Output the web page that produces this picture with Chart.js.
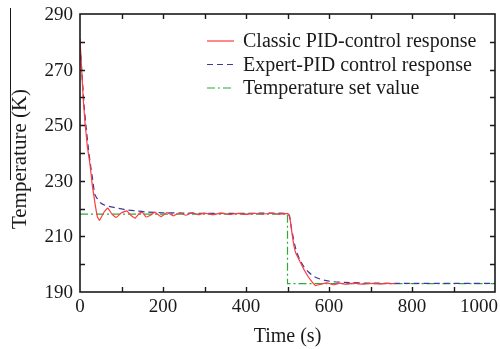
<!DOCTYPE html>
<html>
<head>
<meta charset="utf-8">
<script src="https://cdn.jsdelivr.net/npm/chart.js@4.4.1/dist/chart.umd.min.js"></script>
<style>
  html, body { margin: 0; padding: 0; background: #fff; }
  #wrap { position: relative; width: 500px; height: 349px; }
</style>
</head>
<body>
<div id="wrap"><canvas id="c"></canvas></div>
<script>
// classic PID response (time s, temperature K)
const classicT = [0, 4, 8, 12, 18, 24, 30, 36, 42, 47, 57, 67, 77, 87, 100, 113, 123, 133, 143, 150, 159, 170, 180, 195, 210, 225, 240, 255, 270, 285, 300, 320, 340, 360, 380, 400, 420, 440, 460, 480, 500, 505, 510, 515, 520, 530, 540, 550, 560, 568, 580, 595, 610, 625, 640, 660, 680, 700, 720, 740, 760];
const classicY = [281, 270, 259, 251, 242, 236, 228, 222, 217, 215.8, 218.5, 220.2, 218, 216.8, 218.5, 219.2, 217.5, 216.6, 218.3, 218.7, 217, 217.6, 218.7, 217.1, 218.6, 217.4, 218.5, 217.6, 218.5, 217.8, 218.4, 217.8, 218.4, 217.9, 218.3, 217.9, 218.3, 218, 218.3, 218, 218.2, 217.5, 212, 207, 204, 201, 198, 195.5, 193.5, 192.3, 192.8, 193.3, 192.6, 193.2, 192.8, 193.2, 192.8, 193.1, 192.9, 193.1, 193];
// expert PID response
const expertT = [0, 5, 10, 15, 20, 25, 30, 36, 42, 50, 60, 75, 92, 110, 133, 160, 200, 250, 300, 400, 500, 505, 510, 520, 530, 540, 550, 560, 570, 580, 590, 610, 650, 700, 800, 1000];
const expertY = [279, 268, 257, 249, 242, 236, 231, 225, 223.5, 222, 221.2, 220.6, 220.1, 219.6, 219.2, 218.8, 218.5, 218.4, 218.3, 218.3, 218.2, 217, 212.5, 205.5, 201.5, 199, 197.3, 196, 195.1, 194.6, 194.2, 193.7, 193.4, 193.2, 193.1, 193.1];
// temperature set value
const setT = [0, 500, 500, 1000];
const setY = [218, 218, 193, 193];

const seriesNames = ["Classic PID-control response", "Expert-PID control response", "Temperature set value"];
const xTicks = [0, 200, 400, 600, 800, 1000];
const yTicks = [190, 210, 230, 250, 270, 290];

const pts = (t, y) => t.map((v, i) => ({ x: v, y: y[i] }));
const FONT = "'Liberation Serif', 'Times New Roman', serif";
const INK = "#1a1a1a";

const frame = {
  id: "frame",
  afterDraw(chart) {
    const { ctx, chartArea: a, scales: { x, y } } = chart;
    ctx.save();
    ctx.strokeStyle = INK; ctx.lineWidth = 1.6;
    ctx.strokeRect(a.left, a.top, a.right - a.left, a.bottom - a.top);
    ctx.lineWidth = 1.4;
    for (let v = 100; v < 1000; v += 100) {
      const px = Math.round(x.getPixelForValue(v)) + 0.5;
      ctx.beginPath(); ctx.moveTo(px, a.bottom); ctx.lineTo(px, a.bottom - 5);
      ctx.moveTo(px, a.top); ctx.lineTo(px, a.top + 5); ctx.stroke();
    }
    for (let v = 200; v < 290; v += 10) {
      const py = Math.round(y.getPixelForValue(v)) + 0.5;
      ctx.beginPath(); ctx.moveTo(a.left, py); ctx.lineTo(a.left + 5, py);
      ctx.moveTo(a.right, py); ctx.lineTo(a.right - 5, py); ctx.stroke();
    }
    ctx.fillStyle = INK; ctx.textBaseline = "middle";
    // tick labels
    ctx.font = "19px " + FONT;
    ctx.textAlign = "right";
    yTicks.forEach((v) => ctx.fillText(String(v), 73, y.getPixelForValue(v) + 1));
    xTicks.forEach((v, i) => {
      const last = i === xTicks.length - 1;
      ctx.textAlign = last ? "right" : "center";
      ctx.fillText(String(v), last ? 498 : x.getPixelForValue(v), 307);
    });
    // axis titles
    ctx.font = "20px " + FONT; ctx.textAlign = "center";
    ctx.fillText("Time (s)", (a.left + a.right) / 2, 337);
    ctx.save();
    ctx.font = "21px " + FONT;
    ctx.translate(20, 159); ctx.rotate(-Math.PI / 2);
    ctx.fillText("Temperature (K)", 0, 0);
    ctx.restore();
    ctx.strokeStyle = INK; ctx.lineWidth = 1;
    ctx.beginPath(); ctx.moveTo(10.5, 8); ctx.lineTo(10.5, 180); ctx.stroke();
    // legend
    ctx.font = "20px " + FONT; ctx.textAlign = "left";
    chart.data.datasets.forEach((d, i) => {
      const ly = 41 + i * 23.5;
      ctx.strokeStyle = d.borderColor; ctx.lineWidth = 1.2;
      ctx.setLineDash(d.borderDash || []);
      ctx.beginPath(); ctx.moveTo(207, ly); ctx.lineTo(234, ly); ctx.stroke();
      ctx.setLineDash([]);
      ctx.fillText(d.label, 243, ly + 1);
    });
    ctx.restore();
  }
};

new Chart(document.getElementById("c"), {
  type: "line",
  data: {
    datasets: [
      { label: seriesNames[0], data: pts(classicT, classicY), borderColor: "#ff3b3b", borderWidth: 1.2, pointRadius: 0, tension: 0.1, order: 1 },
      { label: seriesNames[1], data: pts(expertT, expertY), borderColor: "#3d3a9c", borderWidth: 1.2, borderDash: [6, 4], pointRadius: 0, tension: 0.3, order: 2 },
      { label: seriesNames[2], data: pts(setT, setY), borderColor: "#2eaa3c", borderWidth: 1.2, borderDash: [8, 3, 2, 3], pointRadius: 0, order: 3 }
    ]
  },
  options: {
    responsive: true, maintainAspectRatio: false, animation: false,
    layout: { padding: { left: 0, right: 5, top: 14, bottom: 0 } },
    plugins: { legend: { display: false }, tooltip: { enabled: false } },
    scales: {
      x: {
        type: "linear", min: 0, max: 1000,
        afterBuildTicks: (s) => { s.ticks = xTicks.map((v) => ({ value: v })); },
        afterFit: (s) => { s.height = 57; s.paddingRight = 0; s.paddingLeft = 0; },
        grid: { display: false, drawTicks: false }, border: { display: false },
        ticks: { display: false }
      },
      y: {
        min: 190, max: 290,
        afterBuildTicks: (s) => { s.ticks = yTicks.map((v) => ({ value: v })); },
        afterFit: (s) => { s.width = 80; s.paddingTop = 0; s.paddingBottom = 0; },
        grid: { display: false, drawTicks: false }, border: { display: false },
        ticks: { display: false }
      }
    }
  },
  plugins: [frame]
});
</script>
</body>
</html>
